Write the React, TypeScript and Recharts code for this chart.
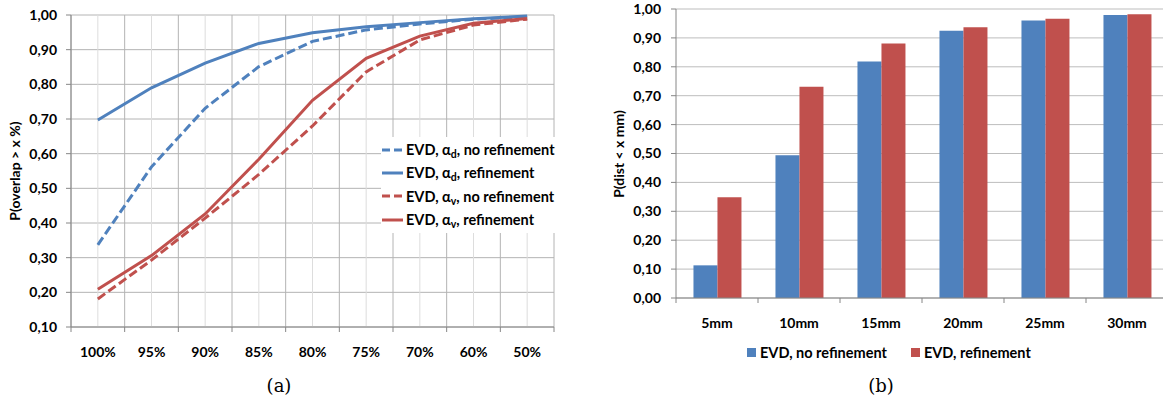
import React from 'react';
import { LineChart, Line, BarChart, Bar, XAxis, YAxis, CartesianGrid } from 'recharts';

// ---------- (a) overlap chart data ----------
const overlapCategories = ['100%', '95%', '90%', '85%', '80%', '75%', '70%', '60%', '50%'];
const alphaDNoRefinement = [0.337, 0.562, 0.731, 0.851, 0.924, 0.957, 0.974, 0.988, 0.995];
const alphaDRefinement = [0.697, 0.79, 0.861, 0.918, 0.949, 0.966, 0.978, 0.989, 0.997];
const alphaVNoRefinement = [0.181, 0.293, 0.414, 0.54, 0.68, 0.836, 0.928, 0.971, 0.988];
const alphaVRefinement = [0.209, 0.306, 0.426, 0.584, 0.754, 0.875, 0.939, 0.976, 0.99];
const overlapYTicks = [0.1, 0.2, 0.3, 0.4, 0.5, 0.6, 0.7, 0.8, 0.9, 1.0];

const lineKeys = ['adNo', 'adRef', 'avNo', 'avRef'];
const lineSubs = ['d', 'd', 'v', 'v'];
const lineSuffixes = [', no refinement', ', refinement', ', no refinement', ', refinement'];
const lineColors = ['#4f81bd', '#4f81bd', '#c0504d', '#c0504d'];
const lineDashed = [true, false, true, false];

// ---------- (b) distance chart data ----------
const distCategories = ['5mm', '10mm', '15mm', '20mm', '25mm', '30mm'];
const distNoRefinement = [0.113, 0.494, 0.818, 0.925, 0.96, 0.979];
const distRefinement = [0.349, 0.731, 0.881, 0.937, 0.966, 0.982];
const distYTicks = [0, 0.1, 0.2, 0.3, 0.4, 0.5, 0.6, 0.7, 0.8, 0.9, 1.0];
const barKeys = ['noRefinement', 'refinement'];
const barNames = ['EVD, no refinement', 'EVD, refinement'];
const barColors = ['#4f81bd', '#c0504d'];

const overlapData = overlapCategories.map((c, i) => ({
  idx: i,
  category: c,
  adNo: alphaDNoRefinement[i],
  adRef: alphaDRefinement[i],
  avNo: alphaVNoRefinement[i],
  avRef: alphaVRefinement[i],
}));
const overlapXTicks: number[] = [];
for (let i = 0; i <= overlapCategories.length * 2; i++) overlapXTicks.push(i / 2 - 0.5);

const distData = distCategories.map((c, i) => ({
  cat: c,
  noRefinement: distNoRefinement[i],
  refinement: distRefinement[i],
}));

const FONT = "Lato, 'Open Sans', 'DejaVu Sans', sans-serif";
const AXIS = '#868686';
const GRID = '#b4b4b4';
const GRID_LIGHT = '#dddddd';

const fmt = (v: number) => v.toFixed(2).replace('.', ',');
const tickFont = { fontFamily: FONT, fontWeight: 700, fontSize: 14, fill: '#000' };

function renderOverlapTick(props: any) {
  const x = props.x;
  const y = props.y;
  const v = props.payload.value;
  if (Number.isInteger(v)) {
    return (
      <text x={x} y={y + 29.7} textAnchor="middle" fontFamily={FONT} fontWeight={700} fontSize={14} fill="#000">
        {overlapCategories[v]}
      </text>
    );
  }
  return <line x1={x} x2={x} y1={y} y2={y + 5} stroke={AXIS} strokeWidth={1} />;
}

function renderDistTick(props: any) {
  const x = props.x;
  const y = props.y;
  const payload = props.payload;
  const index = props.index;
  const count = props.visibleTicksCount;
  const off = payload.offset && payload.offset > 5 ? payload.offset : 41;
  return (
    <g>
      <line x1={x - off} x2={x - off} y1={y} y2={y + 5} stroke={AXIS} />
      {index === count - 1 ? <line x1={x + off} x2={x + off} y1={y} y2={y + 5} stroke={AXIS} /> : null}
      <text x={x} y={y + 30} textAnchor="middle" fontFamily={FONT} fontWeight={700} fontSize={14} fill="#000">
        {payload.value}
      </text>
    </g>
  );
}

function renderGridLine(p: any) {
  return (
    <line
      x1={p.x1}
      x2={p.x2}
      y1={p.y1}
      y2={p.y2}
      stroke={p.index % 2 === 0 ? GRID : GRID_LIGHT}
      strokeWidth={1}
    />
  );
}

const textBase: React.CSSProperties = {
  fontFamily: FONT,
  fontWeight: 700,
  fontSize: 14,
  color: '#000',
  whiteSpace: 'nowrap',
};

function OverlapLegend() {
  return (
    <div
      style={{
        ...textBase,
        fontSize: 14.5,
        position: 'absolute',
        left: 381,
        top: 137,
        background: '#fff',
        width: 178,
        height: 96,
        paddingTop: 1,
        boxSizing: 'border-box',
      }}
    >
      {lineKeys.map((k, i) => (
        <div key={k} style={{ height: 23.3, display: 'flex', alignItems: 'center' }}>
          <svg width={25} height={6} style={{ display: 'block' }}>
            <line
              x1={1}
              x2={22}
              y1={3}
              y2={3}
              stroke={lineColors[i]}
              strokeWidth={3}
              strokeDasharray={lineDashed[i] ? '8 4' : undefined}
            />
          </svg>
          <span>
            EVD, α<span style={{ fontSize: 10.5, position: 'relative', top: 3 }}>{lineSubs[i]}</span>
            {lineSuffixes[i]}
          </span>
        </div>
      ))}
    </div>
  );
}

function DistLegend() {
  return (
    <div
      style={{
        ...textBase,
        fontSize: 14.5,
        position: 'absolute',
        left: 747,
        top: 343,
        display: 'flex',
        alignItems: 'center',
        height: 18,
      }}
    >
      {barKeys.map((k, i) => (
        <div key={k} style={{ display: 'flex', alignItems: 'center', marginRight: i === 0 ? 24 : 0 }}>
          <div style={{ width: 9, height: 9, background: barColors[i], marginRight: 4 }} />
          <span>{barNames[i]}</span>
        </div>
      ))}
    </div>
  );
}

function RotLabel({ text, cx, cy }: { text: string; cx: number; cy: number }) {
  return (
    <div
      style={{
        ...textBase,
        position: 'absolute',
        left: cx - 100,
        top: cy - 10,
        width: 200,
        height: 20,
        lineHeight: '20px',
        textAlign: 'center',
        transform: 'rotate(-90deg)',
      }}
    >
      {text}
    </div>
  );
}

const captionStyle: React.CSSProperties = {
  position: 'absolute',
  width: 100,
  top: 375,
  textAlign: 'center',
  fontFamily: "'DejaVu Serif', serif",
  fontSize: 18,
  lineHeight: '22px',
  color: '#000',
};

export default function App() {
  return (
    <div
      style={{
        position: 'absolute',
        left: 0,
        top: 0,
        width: 1163,
        height: 399,
        overflow: 'hidden',
        background: '#fff',
      }}
    >
      <div style={{ position: 'absolute', left: 0, top: 0 }}>
        <LineChart width={580} height={399} data={overlapData} margin={{ top: 15, right: 26, bottom: 32, left: 0 }}>
          <CartesianGrid stroke={GRID} vertical={renderGridLine as any} />
          <XAxis
            type="number"
            dataKey="idx"
            domain={[-0.5, 8.5]}
            ticks={overlapXTicks}
            interval={0}
            height={40}
            tickSize={0}
            tickMargin={0}
            tickLine={false}
            axisLine={{ stroke: AXIS }}
            tick={renderOverlapTick as any}
          />
          <YAxis
            type="number"
            domain={[0.1, 1]}
            ticks={overlapYTicks}
            interval={0}
            width={71}
            tickSize={5}
            tickMargin={9}
            tickLine={{ stroke: AXIS }}
            axisLine={{ stroke: AXIS }}
            tickFormatter={fmt}
            tick={tickFont}
          />
          {lineKeys.map((k, i) => (
            <Line
              key={k}
              type="linear"
              dataKey={k}
              stroke={lineColors[i]}
              strokeWidth={3}
              strokeDasharray={lineDashed[i] ? '9 4' : undefined}
              dot={false}
              activeDot={false}
              isAnimationActive={false}
            />
          ))}
        </LineChart>
      </div>

      <div style={{ position: 'absolute', left: 580, top: 0 }}>
        <BarChart
          width={600}
          height={399}
          data={distData}
          margin={{ top: 9, right: 12, bottom: 71, left: 0 }}
          barCategoryGap="21.3%"
          barGap={0}
        >
          <CartesianGrid stroke="#bdbdbd" vertical={false} />
          <XAxis
            dataKey="cat"
            height={30}
            tickSize={0}
            tickMargin={0}
            tickLine={false}
            interval={0}
            axisLine={{ stroke: AXIS }}
            tick={renderDistTick as any}
          />
          <YAxis
            type="number"
            domain={[0, 1]}
            ticks={distYTicks}
            interval={0}
            width={96}
            tickSize={5}
            tickMargin={10}
            tickLine={{ stroke: AXIS }}
            axisLine={{ stroke: AXIS }}
            tickFormatter={fmt}
            tick={tickFont}
          />
          {barKeys.map((k, i) => (
            <Bar key={k} dataKey={k} name={barNames[i]} fill={barColors[i]} isAnimationActive={false} />
          ))}
        </BarChart>
      </div>

      <OverlapLegend />
      <DistLegend />
      <RotLabel text="P(overlap > x %)" cx={15} cy={171} />
      <RotLabel text="P(dist < x mm)" cx={619} cy={154} />

      <div style={{ ...captionStyle, left: 229 }}>(a)</div>
      <div style={{ ...captionStyle, left: 831 }}>(b)</div>
    </div>
  );
}
